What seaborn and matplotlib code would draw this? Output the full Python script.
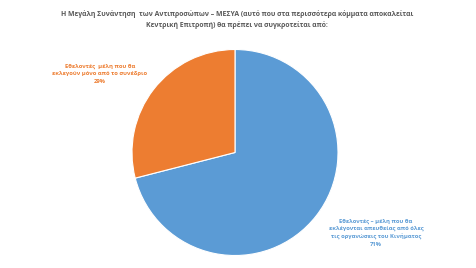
import matplotlib
matplotlib.use("Agg")
import matplotlib.pyplot as plt
import seaborn as sns

labels = ["Εθελοντές – μέλη που θα\nεκλέγονται απευθείας από όλες\nτις οργανώσεις του Κινήματος",
          "Εθελοντές  μέλη που θα\nεκλεγούν μόνο από το συνέδριο"]
values = [71, 29]
title = ("Η Μεγάλη Συνάντηση  των Αντιπροσώπων – ΜΕΣΥΑ (αυτό που στα περισσότερα κόμματα αποκαλείται\n"
         "Κεντρική Επιτροπή) θα πρέπει να συγκροτείται από:")

sns.set_style("white")
plt.rcParams['font.family'] = ['Open Sans', 'DejaVu Sans']
colors = ["#5B9BD5", "#ED7D31"]

fig = plt.figure(figsize=(4.77, 2.68), dpi=100)
fig.patch.set_facecolor("white")
ax = fig.add_axes([0.2767, 0.0466, 0.4319, 0.7687])
ax.pie(values, colors=colors, startangle=90, counterclock=False,
       wedgeprops=dict(edgecolor="white", linewidth=0.8))
ax.set_xlim(-1.0, 1.0)
ax.set_ylim(-1.0, 1.0)
ax.set_aspect("equal")

fig.text(237/477, 1 - 10.5/268, title, ha="center", va="top", fontsize=4.95,
         color="#595959", fontweight="bold", linespacing=1.45)

fig.text(100/477, 1 - 63.5/268, labels[1] + f"\n{values[1]}%", ha="center", va="top",
         fontsize=4.2, color=colors[1], fontweight="bold", linespacing=1.62)
fig.text(376/477, 1 - 218.5/268, labels[0] + f"\n{values[0]}%", ha="center", va="top",
         fontsize=4.2, color=colors[0], fontweight="bold", linespacing=1.53)

fig.savefig("out.png", dpi=100, facecolor="white")
